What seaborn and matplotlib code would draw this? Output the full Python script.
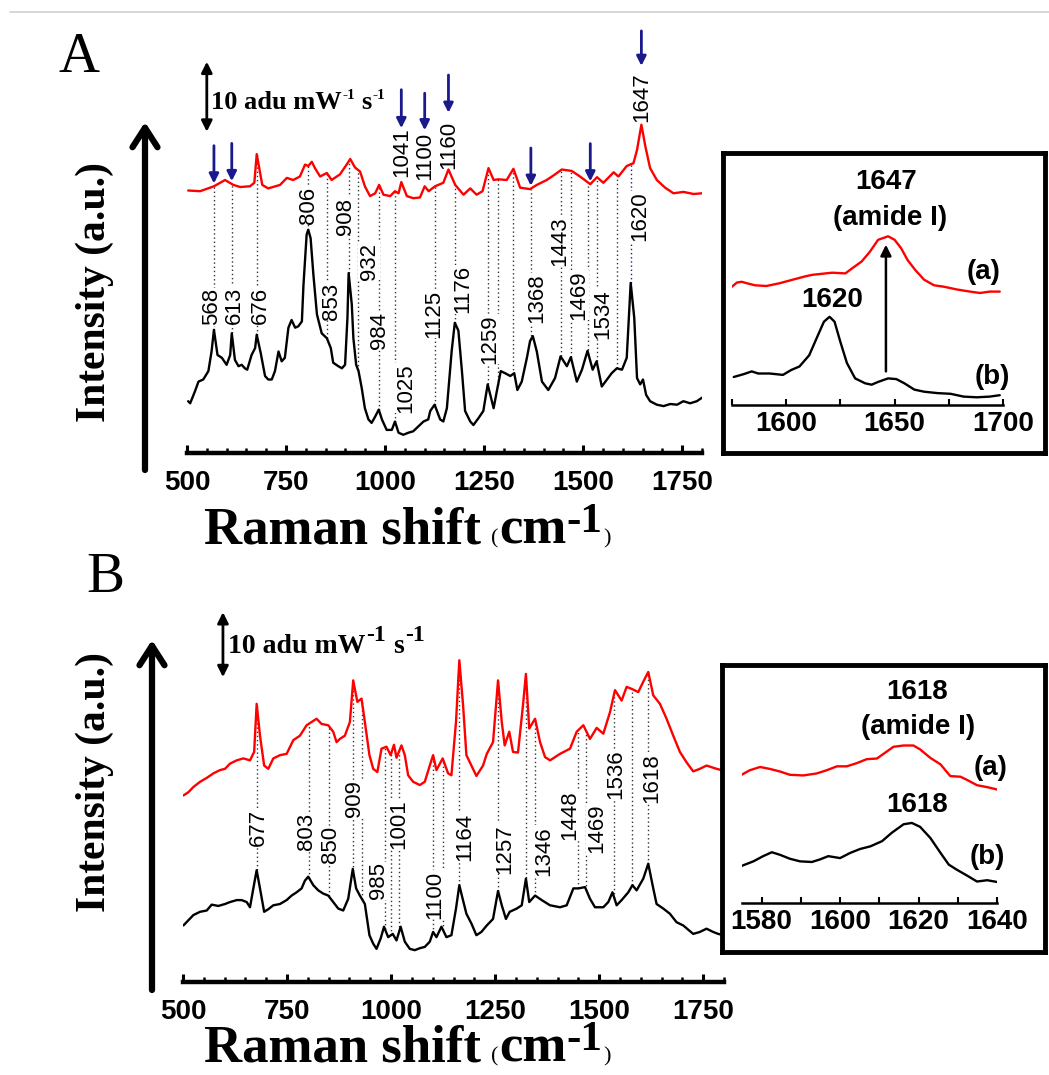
import numpy as np
import matplotlib
matplotlib.use("Agg")
import matplotlib.pyplot as plt
import seaborn as sns
from matplotlib.ticker import FixedLocator, MultipleLocator

# ---------------- spectra: Raman shift (cm-1) and offset intensity (adu mW-1 s-1) ----------------
# Panel A, full range
a_red_wn = [503, 533, 568, 596, 617, 634, 659, 670, 676, 690, 705, 735, 752, 768, 785, 798, 806, 815, 823, 836,
            853, 865, 886, 903, 912, 924, 937, 949, 962, 975, 985, 996, 1013, 1025, 1034, 1041, 1055, 1071, 1088, 1100,
            1110, 1126, 1147, 1160, 1177, 1198, 1215, 1231, 1246, 1261, 1274, 1286, 1307, 1324, 1341, 1366, 1383, 1408,
            1429, 1446, 1471, 1492, 1518, 1535, 1551, 1577, 1589, 1610, 1627, 1636, 1647, 1657, 1669, 1686, 1707, 1728,
            1753, 1779, 1800]
a_red_int = [37.5, 37.4, 38.1, 39.0, 38.3, 38.0, 38.1, 38.6, 42.7, 38.3, 37.8, 38.3, 39.3, 39.0, 39.5, 41.2, 41.0,
             41.6, 40.7, 39.5, 40.0, 39.0, 39.8, 41.2, 42.0, 40.8, 40.2, 38.1, 36.7, 37.1, 38.3, 36.9, 36.7, 37.4, 37.1,
             38.7, 36.7, 36.4, 36.5, 38.1, 37.4, 38.1, 38.6, 40.5, 38.3, 36.9, 37.8, 36.9, 37.4, 40.7, 39.0, 39.1, 39.0,
             40.6, 37.9, 37.7, 38.3, 39.0, 39.8, 40.5, 40.3, 39.5, 38.4, 39.4, 38.6, 40.1, 39.5, 41.0, 41.4, 43.3, 46.9,
             43.8, 40.7, 39.0, 37.9, 37.1, 37.3, 37.0, 37.1]
a_blk_wn = [503, 508, 520, 529, 541, 554, 562, 568, 577, 588, 600, 609, 613, 621, 630, 638, 646, 652, 663, 672, 676,
            686, 697, 705, 714, 722, 731, 739, 747, 756, 764, 773, 781, 790, 794, 802, 806, 812, 819, 828, 840, 853,
            863, 869, 882, 891, 899, 905, 908, 916, 920, 927, 933, 941, 949, 958, 966, 975, 984, 992, 1004, 1017, 1025,
            1034, 1046, 1059, 1071, 1084, 1097, 1109, 1114, 1125, 1139, 1147, 1156, 1168, 1176, 1185, 1194, 1202, 1215,
            1223, 1236, 1248, 1259, 1274, 1282, 1292, 1303, 1316, 1326, 1334, 1345, 1358, 1366, 1373, 1383, 1396, 1412,
            1429, 1443, 1459, 1469, 1484, 1497, 1511, 1524, 1534, 1547, 1560, 1572, 1585, 1598, 1610, 1620, 1629, 1636,
            1644, 1651, 1659, 1669, 1686, 1703, 1720, 1737, 1753, 1770, 1787, 1800]
a_blk_int = [7.4, 7.1, 8.8, 10.2, 10.5, 11.7, 14.5, 17.6, 14.0, 13.6, 12.6, 14.0, 17.1, 13.3, 12.4, 12.6, 12.1, 11.9,
             14.0, 15.0, 16.9, 14.3, 11.0, 10.5, 10.5, 11.7, 14.5, 13.1, 13.6, 17.9, 19.0, 17.9, 18.1, 18.8, 24.0, 31.2,
             31.9, 30.7, 25.5, 19.8, 17.1, 16.4, 15.0, 12.9, 12.4, 12.1, 12.6, 19.3, 25.7, 21.2, 16.4, 12.6, 11.7, 9.3,
             6.4, 4.8, 4.3, 5.2, 6.2, 4.8, 3.3, 3.3, 4.5, 2.9, 2.6, 2.9, 3.1, 3.8, 4.5, 4.8, 6.0, 6.9, 4.8, 4.5, 6.4,
             14.5, 18.6, 17.5, 11.7, 6.0, 4.5, 4.0, 5.0, 6.0, 9.8, 6.4, 8.8, 11.7, 11.4, 11.0, 11.4, 9.0, 10.2, 13.6,
             16.0, 16.7, 14.5, 10.2, 9.0, 10.7, 13.8, 12.4, 13.7, 10.2, 11.9, 14.6, 11.9, 13.1, 9.5, 10.5, 11.4, 12.1,
             11.9, 13.6, 24.3, 19.3, 10.7, 9.8, 10.5, 8.3, 7.4, 6.9, 6.7, 7.0, 6.9, 7.4, 7.1, 7.4, 7.9]

# Panel A, amide I region
ia_red_wn = [1575, 1577.3, 1579.5, 1581.8, 1585.6, 1590.9, 1597, 1603, 1609.1, 1612.1, 1615.2, 1621.2, 1627.3, 1630.3,
             1634.8, 1638.6, 1642.4, 1647, 1650, 1653, 1656, 1659.5, 1663.6, 1668.2, 1672.7, 1678.8, 1684.8, 1689.4,
             1693.9, 1698.5]
ia_red_int = [16.9, 17.5, 17.6, 17.4, 17.1, 17.0, 17.4, 17.9, 18.4, 18.6, 18.7, 18.9, 18.8, 19.5, 20.5, 21.9, 23.6,
              24.1, 23.6, 22.4, 20.7, 19.3, 17.9, 17.1, 16.9, 16.5, 16.2, 16.0, 16.2, 16.2]
ia_blk_wn = [1575.8, 1580.3, 1584.1, 1587.1, 1592.4, 1598.5, 1602.3, 1606.1, 1610.6, 1614.4, 1617.4, 1620, 1622.3,
             1625, 1628, 1631.8, 1636.4, 1639.4, 1642.4, 1647, 1650.8, 1654.5, 1659.1, 1663.6, 1669.7, 1675.8, 1681.8,
             1687.9, 1693.9, 1698.5]
ia_blk_int = [4.0, 4.4, 4.8, 4.5, 4.5, 4.3, 5.0, 5.5, 7.1, 9.8, 11.9, 12.6, 11.9, 9.0, 6.0, 3.8, 3.1, 2.9, 3.3, 3.8,
              3.7, 3.1, 2.2, 1.9, 1.7, 1.6, 1.2, 1.1, 1.2, 1.4]

# Panel B, full range
b_red_wn = [501, 513, 525, 541, 557, 573, 589, 601, 613, 629, 645, 661, 671, 677, 685, 695, 705, 717, 733, 749, 765,
            781, 797, 809, 821, 833, 849, 861, 869, 877, 889, 901, 909, 919, 929, 937, 948, 957, 967, 977, 989, 999,
            1007, 1013, 1025, 1033, 1041, 1053, 1069, 1081, 1093, 1101, 1109, 1124, 1137, 1145, 1156, 1164, 1173, 1181,
            1193, 1205, 1221, 1230, 1245, 1257, 1266, 1273, 1284, 1293, 1305, 1317, 1324, 1332, 1346, 1358, 1370, 1382,
            1406, 1430, 1446, 1462, 1478, 1494, 1510, 1526, 1538, 1554, 1566, 1578, 1594, 1606, 1618, 1630, 1646, 1662,
            1678, 1694, 1710, 1726, 1742, 1758, 1782, 1800]
b_red_int = [28.7, 29.2, 30.0, 30.8, 31.4, 32.1, 32.6, 32.8, 33.6, 34.1, 34.4, 34.1, 35.4, 42.8, 37.9, 33.3, 32.8,
             34.4, 34.9, 35.1, 37.2, 37.9, 39.5, 40.0, 40.5, 39.7, 39.5, 38.5, 36.9, 37.4, 37.9, 40.0, 46.4, 43.1, 43.6,
             40.0, 34.9, 32.8, 32.3, 35.9, 36.2, 34.9, 36.5, 34.5, 36.4, 34.9, 31.8, 30.8, 30.3, 30.8, 33.3, 34.9, 32.6,
             34.4, 32.1, 31.8, 40.0, 49.5, 42.6, 34.9, 33.3, 31.7, 33.3, 35.1, 36.9, 46.4, 40.0, 36.4, 38.5, 35.4, 35.3,
             42.6, 47.4, 39.0, 40.5, 36.9, 34.6, 34.1, 35.1, 35.9, 38.5, 39.5, 37.4, 39.1, 38.2, 41.5, 44.9, 43.3, 45.4,
             45.1, 44.6, 46.2, 47.7, 44.1, 42.8, 40.5, 37.9, 35.4, 33.8, 32.4, 32.8, 33.3, 32.8, 32.5]
b_blk_wn = [501, 513, 525, 541, 557, 569, 585, 601, 613, 629, 641, 653, 661, 669, 677, 685, 695, 705, 717, 733, 749,
            761, 773, 785, 793, 801, 813, 825, 837, 849, 861, 873, 885, 897, 908, 916, 925, 937, 948, 957, 965, 975,
            983, 993, 1004, 1013, 1023, 1033, 1045, 1057, 1069, 1081, 1093, 1101, 1109, 1121, 1133, 1145, 1156, 1164,
            1172, 1181, 1193, 1205, 1217, 1230, 1245, 1257, 1266, 1276, 1285, 1302, 1314, 1324, 1332, 1346, 1362, 1382,
            1406, 1422, 1438, 1450, 1466, 1478, 1490, 1510, 1522, 1532, 1542, 1554, 1570, 1580, 1590, 1606, 1618, 1630,
            1638, 1654, 1670, 1686, 1702, 1726, 1742, 1758, 1774, 1786, 1800]
b_blk_int = [8.7, 9.5, 10.3, 10.8, 11.0, 11.9, 11.7, 12.0, 12.3, 12.6, 12.6, 12.3, 11.5, 14.4, 17.2, 14.4, 10.8, 11.2,
             11.8, 12.0, 12.6, 13.3, 13.8, 14.4, 15.6, 16.2, 14.9, 14.1, 13.6, 13.3, 12.3, 11.3, 11.0, 12.8, 17.4, 14.4,
             13.3, 12.0, 7.2, 5.9, 5.1, 6.7, 8.5, 6.9, 7.4, 6.4, 8.5, 6.2, 5.1, 4.9, 5.2, 5.4, 6.2, 7.7, 6.9, 8.5, 6.9,
             7.2, 11.3, 14.9, 12.8, 10.5, 9.0, 7.2, 7.7, 8.7, 9.7, 14.0, 11.8, 9.7, 10.8, 11.3, 11.8, 15.9, 12.3, 13.3,
             12.6, 11.8, 11.5, 11.8, 14.4, 14.4, 14.6, 12.8, 11.5, 11.5, 12.3, 13.8, 11.8, 12.6, 13.8, 14.9, 14.1, 15.9,
             18.2, 14.4, 12.0, 11.3, 10.5, 9.2, 8.7, 7.4, 7.7, 8.2, 7.7, 7.4, 7.2]

# Panel B, amide I region
ib_red_wn = [1574.9, 1577.0, 1579.6, 1582.1, 1584.7, 1587.2, 1590.6, 1594.0, 1596.6, 1599.2, 1601.7, 1604.3, 1606.8,
             1609.4, 1611.5, 1613.6, 1616.2, 1618.7, 1620.4, 1623.0, 1625.6, 1628.1, 1630.7, 1632.4, 1634.9, 1637.5,
             1640.3]
ib_red_int = [19.7, 20.4, 20.9, 20.6, 20.2, 19.7, 19.6, 19.9, 20.4, 21.0, 21.0, 21.5, 22.1, 22.2, 23.1, 24.0, 24.2,
              24.2, 23.6, 22.3, 21.3, 19.5, 19.4, 18.9, 18.1, 17.8, 17.4]
ib_blk_wn = [1574.9, 1577.9, 1580.4, 1582.6, 1584.7, 1587.2, 1589.8, 1592.8, 1594.9, 1597.0, 1600.0, 1602.6, 1605.1,
             1607.7, 1610.7, 1613.2, 1616.2, 1618.3, 1620.4, 1623.0, 1625.6, 1627.7, 1629.8, 1632.4, 1634.9, 1637.5,
             1640.3]
ib_blk_int = [5.7, 6.4, 7.2, 7.8, 7.4, 6.8, 6.4, 6.3, 6.7, 7.2, 6.9, 7.7, 8.3, 8.7, 9.5, 10.8, 12.1, 12.3, 11.7, 10.0,
              7.7, 5.9, 5.1, 4.2, 3.3, 3.5, 3.2]

# band assignments: guide lines and their labels (text, x, y)
a_bands = [568, 613, 676, 806, 853, 908, 932, 984, 1025, 1125, 1176, 1259, 1285, 1323, 1368, 1443, 1469, 1513,
           1534, 1585]
a_band_labels = [("568", 563, 20.9), ("613", 620, 21.1), ("676", 685, 21.1), ("806", 806, 35.4), ("853", 866, 21.7),
                 ("908", 901, 33.8), ("932", 960, 27.4), ("984", 987, 17.5), ("1025", 1051, 9.3),
                 ("1125", 1124, 19.9), ("1176", 1195, 23.4), ("1259", 1265, 16.3), ("1368", 1384, 22.1),
                 ("1443", 1442, 30.3), ("1469", 1488, 22.6), ("1534", 1550, 19.9), ("1620", 1642, 33.8)]
a_top_bands = [(1041, 51.9, 46.4, 43.0), (1100, 51.4, 46.1, 42.4), (1160, 54.0, 48.6, 44.0),
               (1647, 60.3, 55.3, 50.9)]
a_plain_arrows = [568, 613, 1368, 1518]

b_bands = [677, 803, 850, 909, 930, 985, 1001, 1020, 1100, 1125, 1164, 1257, 1325, 1346, 1448, 1469, 1536, 1580,
           1618]
b_band_labels = [("677", 682, 23.8), ("803", 797, 23.2), ("850", 855, 21.1), ("909", 911, 28.2), ("985", 970, 15.6),
                 ("1001", 1018, 24.3), ("1100", 1105, 13.4), ("1164", 1177, 22.3), ("1257", 1273, 20.5),
                 ("1346", 1366, 20.2), ("1448", 1430, 25.7), ("1469", 1495, 23.7), ("1536", 1541, 32.0),
                 ("1618", 1626, 31.4)]

main_ticks = [500, 750, 1000, 1250, 1500, 1750]

# ---------------- figure ----------------
sns.set_theme(style="white")
plt.rcParams["font.family"] = ["Liberation Sans", "DejaVu Sans"]
plt.rcParams["text.color"] = "black"
SERIF = ["Liberation Serif", "DejaVu Serif"]
RED = "#ff0000"
NAVY = "#1a1a8c"

W, H = 1049, 1075
fig = plt.figure(figsize=(W / 100, H / 100), dpi=100)
fig.patch.set_facecolor("white")


def rect(l, t, r, b):
    return [l / W, 1 - b / H, (r - l) / W, (b - t) / H]


ov = fig.add_axes([0, 0, 1, 1])
ov.set_xlim(0, W)
ov.set_ylim(H, 0)
ov.axis("off")
renderer = fig.canvas.get_renderer()


def chain(x, y, parts):
    """Write text pieces one after another on a common baseline (pixel coords)."""
    for s, size, weight, rise, gap in parts:
        x += gap
        t = ov.text(x, y - rise, s, fontsize=size, fontweight=weight, family=SERIF,
                    ha="left", va="baseline", color="black")
        x += t.get_window_extent(renderer=renderer).width


def spectrum_panel(r, ytop, red, blk, bands, labels, blue_bands=()):
    ax = fig.add_axes(r)
    ax.patch.set_alpha(0)
    sns.lineplot(x=red[0], y=red[1], ax=ax, color=RED, lw=1.7, estimator=None, sort=False, zorder=4)
    sns.lineplot(x=blk[0], y=blk[1], ax=ax, color="black", lw=1.7, estimator=None, sort=False, zorder=4)
    for wn in list(bands) + list(blue_bands):
        lo = np.interp(wn, blk[0], blk[1])
        hi = np.interp(wn, red[0], red[1])
        col = NAVY if wn in blue_bands else "#333333"
        ax.plot([wn, wn], [lo, hi], ls=(0, (1, 2)), lw=1.0, color=col, zorder=1)
    for s, x, y in labels:
        ax.text(x, y, s, rotation=90, ha="center", va="center", fontsize=16, zorder=3, color="black",
                bbox=dict(fc="white", ec="none", pad=0.3))
    ax.set_xlim(500, 1800)
    ax.set_ylim(0, ytop)
    for side in ("top", "right", "left"):
        ax.spines[side].set_visible(False)
    ax.spines["bottom"].set_linewidth(3.2)
    ax.spines["bottom"].set_color("black")
    ax.xaxis.set_major_locator(FixedLocator(main_ticks))
    ax.xaxis.set_minor_locator(MultipleLocator(50))
    ax.tick_params(axis="x", which="both", bottom=True, direction="in", color="black")
    ax.tick_params(axis="x", which="major", length=6, width=2.2, labelsize=20, pad=12, labelcolor="black")
    ax.tick_params(axis="x", which="minor", length=3.5, width=1.8)
    for lab in ax.get_xticklabels():
        lab.set_fontweight("bold")
    ax.set_yticks([])
    ax.set_xlabel("")
    ax.set_ylabel("")
    return ax


def inset(box_px, axis_px, xr, ytop, red, blk, major, minor, texts):
    bx = fig.add_axes(rect(*box_px))
    bx.set_facecolor("white")
    bx.set_xticks([])
    bx.set_yticks([])
    for s in bx.spines.values():
        s.set_visible(True)
        s.set_linewidth(3.5)
        s.set_color("black")
    ax = fig.add_axes(rect(*axis_px))
    ax.patch.set_alpha(0)
    sns.lineplot(x=red[0], y=red[1], ax=ax, color=RED, lw=1.7, estimator=None, sort=False)
    sns.lineplot(x=blk[0], y=blk[1], ax=ax, color="black", lw=1.7, estimator=None, sort=False)
    ax.set_xlim(*xr)
    ax.set_ylim(0, ytop)
    for side in ("top", "right", "left"):
        ax.spines[side].set_visible(False)
    ax.spines["bottom"].set_linewidth(1.8)
    ax.spines["bottom"].set_color("black")
    ax.xaxis.set_major_locator(FixedLocator(major))
    ax.xaxis.set_minor_locator(FixedLocator(minor))
    ax.tick_params(axis="x", which="both", bottom=True, direction="in", length=4, width=1.5, color="black")
    ax.tick_params(axis="x", which="major", labelsize=20, pad=4, labelcolor="black")
    for lab in ax.get_xticklabels():
        lab.set_fontweight("bold")
    ax.set_yticks([])
    ax.set_xlabel("")
    ax.set_ylabel("")
    for s, x, y in texts:
        ax.text(x, y, s, ha="center", va="center", fontsize=20, fontweight="bold", color="black", clip_on=False)
    return ax


# ---- panel A ----
axA = spectrum_panel(rect(187, 40, 702, 453), 59.0, (a_red_wn, a_red_int), (a_blk_wn, a_blk_int),
                     a_bands, a_band_labels, blue_bands=(1620,))
for wn, tail, tip, ylab in a_top_bands:
    axA.annotate("", xy=(wn, tip), xytext=(wn, tail), annotation_clip=False,
                 arrowprops=dict(arrowstyle="-|>", color=NAVY, lw=2, mutation_scale=14, shrinkA=0, shrinkB=0))
    axA.text(wn, ylab, str(wn), rotation=90, ha="center", va="center", fontsize=16, zorder=3, color="black")
for wn in a_plain_arrows:
    tip = np.interp(wn, a_red_wn, a_red_int) + 0.4
    axA.annotate("", xy=(wn, tip), xytext=(wn, tip + 5.4),
                 arrowprops=dict(arrowstyle="-|>", color=NAVY, lw=2, mutation_scale=14, shrinkA=0, shrinkB=0))
axA.annotate("", xy=(550, 55.9), xytext=(550, 45.9), annotation_clip=False,
             arrowprops=dict(arrowstyle="<|-|>", color="black", lw=2, mutation_scale=16, shrinkA=0, shrinkB=0))

iaA = inset((723, 153, 1045, 453), (732, 160, 1003, 405), (1575, 1700), 35.0,
            (ia_red_wn, ia_red_int), (ia_blk_wn, ia_blk_int), [1600, 1650, 1700], [1575, 1625, 1675],
            [("1647", 1646, 31.9), ("(amide I)", 1648, 26.7), ("(a)", 1691, 19.0), ("1620", 1621, 15.0),
             ("(b)", 1695, 4.0)])
iaA.annotate("", xy=(1646, 22.9), xytext=(1646, 4.8),
             arrowprops=dict(arrowstyle="-|>", color="black", lw=1.8, mutation_scale=16, shrinkA=0, shrinkB=0))

# ---- panel B ----
axB = spectrum_panel(rect(183, 600, 724, 982), 58.77, (b_red_wn, b_red_int), (b_blk_wn, b_blk_int),
                     b_bands, b_band_labels)
axB.annotate("", xy=(596, 56.9), xytext=(596, 46.9), annotation_clip=False,
             arrowprops=dict(arrowstyle="<|-|>", color="black", lw=2, mutation_scale=16, shrinkA=0, shrinkB=0))

inset((722, 665, 1045, 952), (742, 670, 997, 903), (1575, 1640), 35.8,
      (ib_red_wn, ib_red_int), (ib_blk_wn, ib_blk_int), [1580, 1600, 1620, 1640], [1590, 1610, 1630],
      [("1618", 1619.6, 32.4), ("(amide I)", 1619.8, 27.0), ("(a)", 1638.3, 20.8), ("1618", 1619.6, 15.0),
       ("(b)", 1637.6, 7.1)])

# ---- figure-level decorations (pixel coordinates) ----
ov.plot([10, W], [12, 12], color="#cfcfcf", lw=1.2)
ov.text(79, 58, "A", family=SERIF, fontsize=41, ha="center", va="center", color="black")
ov.text(105, 578, "B", family=SERIF, fontsize=41, ha="center", va="center", color="black")

for x, y0, y1, yc in [(145, 470, 122, 292), (152, 990, 640, 782)]:
    ov.annotate("", xy=(x, y1), xytext=(x, y0),
                arrowprops=dict(arrowstyle="->,head_length=0.7,head_width=0.45", color="black", lw=4.5,
                                mutation_scale=20, shrinkA=0, shrinkB=0))
    ov.text(95, yc, "Intensity (a.u.)", rotation=90, family=SERIF, fontsize=30, fontweight="bold",
            ha="center", va="center", color="black")

chain(211, 109, [("10 adu mW", 19, "bold", 0, 0), ("-1", 11, "bold", 10, 1),
                 ("s", 19, "bold", 0, 6), ("-1", 11, "bold", 10, 1)])
chain(228, 653, [("10 adu mW", 20, "bold", 0, 0), ("-1", 17, "bold", 12, 1),
                 ("s", 20, "bold", 0, 7), ("-1", 17, "bold", 12, 1)])

for base in (543, 1061):
    chain(204, base, [("Raman shift", 38, "bold", 0, 0), ("(", 16, "normal", 0, 10), ("cm", 38, "bold", 0, 1),
                      ("-1", 31, "bold", 11, 0), (")", 16, "normal", 0, 1)])

fig.savefig("out.png", dpi=100, facecolor="white")
